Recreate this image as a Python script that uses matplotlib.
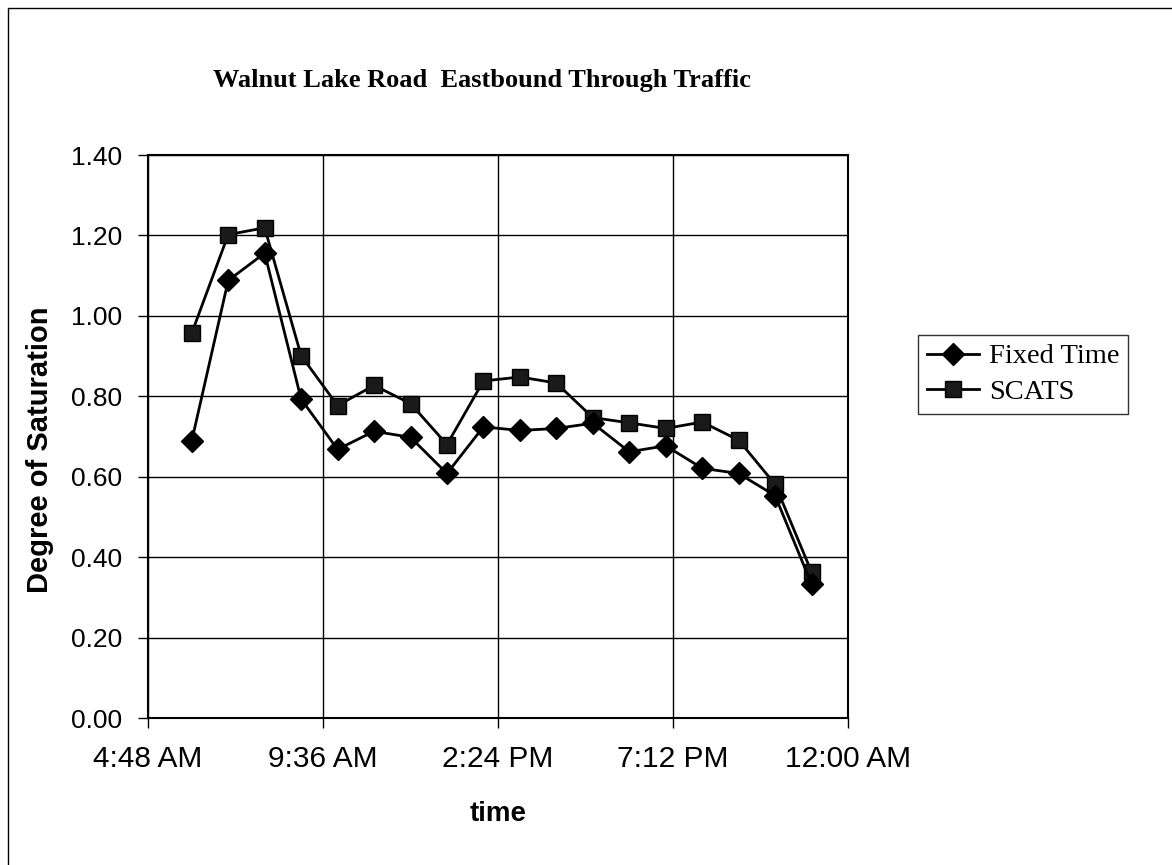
import matplotlib
matplotlib.use("Agg")
from matplotlib import pyplot as plt
from matplotlib.patches import Rectangle

# hour of day for each count period
hours = [6, 7, 8, 9, 10, 11, 12, 13, 14, 15, 16, 17, 18, 19, 20, 21, 22, 23]

fixed_time = [0.689, 1.088, 1.156, 0.793, 0.668, 0.713, 0.698, 0.608, 0.724,
              0.715, 0.720, 0.733, 0.662, 0.677, 0.621, 0.608, 0.553, 0.333]
scats = [0.957, 1.202, 1.219, 0.901, 0.777, 0.827, 0.782, 0.680, 0.838,
         0.848, 0.833, 0.747, 0.734, 0.720, 0.736, 0.691, 0.581, 0.363]

x_ticks = [4.8, 9.6, 14.4, 19.2, 24.0]
x_tick_labels = ['4:48 AM', '9:36 AM', '2:24 PM', '7:12 PM', '12:00 AM']
y_ticks = [0.0, 0.2, 0.4, 0.6, 0.8, 1.0, 1.2, 1.4]


def main():
    fig = plt.figure(figsize=(11.72, 8.65), dpi=100)
    ax = fig.add_axes([148 / 1172, 1 - 718 / 865, 700 / 1172, 563 / 865])

    ax.plot(hours, fixed_time, color='black', lw=2, marker='D', ms=11,
            mfc='black', mec='black', label='Fixed Time', zorder=4)
    ax.plot(hours, scats, color='black', lw=2, marker='s', ms=11,
            mfc='#1a1a1a', mec='black', label='SCATS', zorder=3)

    ax.set_xlim(4.8, 24.0)
    ax.set_ylim(0, 1.4)
    ax.set_xticks(x_ticks)
    ax.set_xticklabels(x_tick_labels, family='Liberation Sans', fontsize=21.5)
    ax.set_yticks(y_ticks)
    ax.set_yticklabels(['%.2f' % v for v in y_ticks], family='Liberation Sans',
                       fontsize=19)
    ax.tick_params(direction='out', length=7.5, width=1, colors='black')
    ax.tick_params(axis='x', pad=12)
    ax.tick_params(axis='y', pad=11)
    ax.grid(True, color='black', lw=1)
    ax.set_axisbelow(True)
    for sp in ax.spines.values():
        sp.set_linewidth(1.5)
        sp.set_color('black')

    ax.set_xlabel('time', family='Liberation Sans', fontweight='bold',
                  fontsize=20, labelpad=20)
    ax.set_ylabel('Degree of Saturation', family='Liberation Sans',
                  fontweight='bold', fontsize=21)
    ax.yaxis.set_label_coords(-0.134, 0.477)

    fig.text(482 / 1172, 1 - 80 / 865,
             'Walnut Lake Road  Eastbound Through Traffic',
             family='Liberation Serif', fontweight='bold', fontsize=19,
             ha='center', va='center')

    leg = ax.legend(loc='upper left', bbox_to_anchor=(1.1, 1 - 180 / 563),
                    prop={'family': 'Liberation Serif', 'size': 20.5},
                    frameon=True, fancybox=False, handlelength=1.85,
                    handletextpad=0.35, borderpad=0.3, labelspacing=0.35,
                    borderaxespad=0)
    leg.get_frame().set_edgecolor('black')
    leg.get_frame().set_linewidth(1)

    # outer chart border
    fig.patches.append(Rectangle((8 / 1172, -0.01), 1.02, 1 - 8 / 865 + 0.01,
                                 transform=fig.transFigure, fill=False,
                                 edgecolor='black', lw=1))

    fig.savefig('out.png', dpi=100)


if __name__ == '__main__':
    main()
